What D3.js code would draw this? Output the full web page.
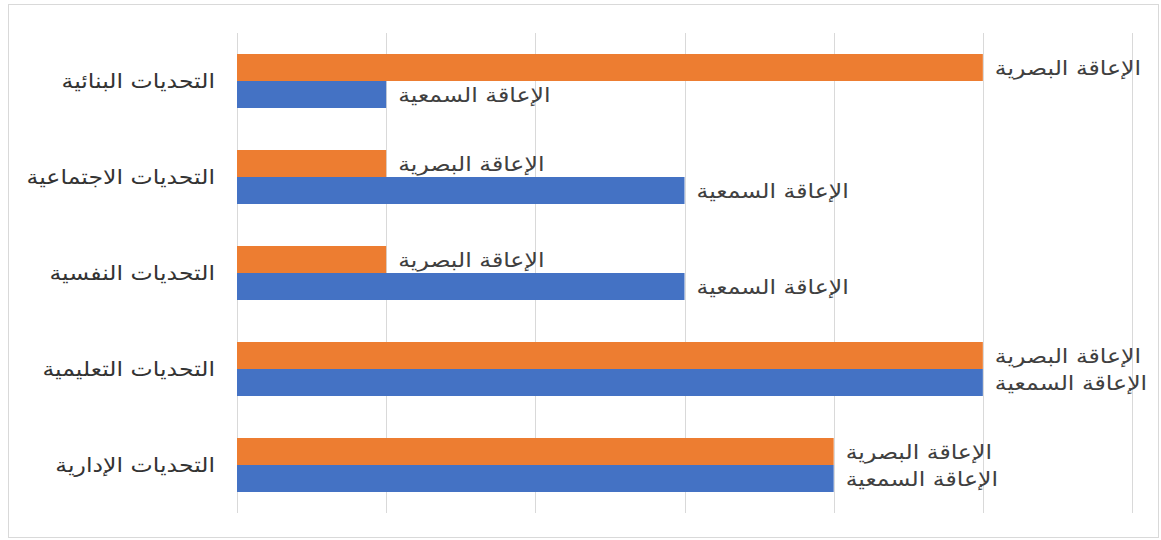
<!DOCTYPE html>
<html>
<head>
<meta charset="utf-8">
<script src="https://cdnjs.cloudflare.com/ajax/libs/d3/7.8.5/d3.min.js"></script>
<style>
  html, body { margin: 0; padding: 0; background: #fff; }
  svg text { font-family: "DejaVu Sans", "Liberation Sans", sans-serif; fill: #404040; }
</style>
</head>
<body>
<svg width="1161" height="540"></svg>
<script>
// categories top to bottom
var categories = ["التحديات البنائية", "التحديات الاجتماعية", "التحديات النفسية", "التحديات التعليمية", "التحديات الإدارية"];
var seriesNames = ["الإعاقة البصرية", "الإعاقة السمعية"];
var visualValues = [5, 1, 1, 5, 4];
var hearingValues = [1, 3, 3, 5, 4];
var xTicks = [0, 1, 2, 3, 4, 5, 6];
var colors = ["#ED7D31", "#4472C4"];

var svg = d3.select("svg"),
    width = +svg.attr("width"),
    height = +svg.attr("height");

// wider arabic glyphs like the original font
var stretch = 1.18;
function widen(sel) {
    sel.each(function() {
        var len = this.getComputedTextLength();
        d3.select(this)
            .attr("textLength", len * stretch)
            .attr("lengthAdjust", "spacingAndGlyphs");
    });
}

// chart border
svg.append("rect")
    .attr("x", 8.5).attr("y", 4.5)
    .attr("width", 1150).attr("height", 533)
    .attr("fill", "none")
    .attr("stroke", "#d9d9d9");

var x = d3.scaleLinear()
    .domain([0, 6])
    .range([237, 1132]);

var y = d3.scaleBand()
    .domain(categories)
    .range([33, 513])
    .paddingInner(0.4375)
    .paddingOuter(0.21875);

var ySub = d3.scaleBand()
    .domain(seriesNames)
    .range([0, y.bandwidth()]);

// gridlines
svg.append("g")
    .selectAll("line")
    .data(xTicks)
    .enter().append("line")
    .attr("x1", (d) => Math.round(x(d)) + 0.5)
    .attr("x2", (d) => Math.round(x(d)) + 0.5)
    .attr("y1", 33)
    .attr("y2", 513)
    .attr("stroke", "#d9d9d9")
    .attr("stroke-width", 1);

var rows = categories.map(function(c, i) {
    return [
        { cat: c, name: seriesNames[0], value: visualValues[i], color: colors[0] },
        { cat: c, name: seriesNames[1], value: hearingValues[i], color: colors[1] }
    ];
});

var groups = svg.append("g")
    .selectAll("g")
    .data(rows)
    .enter().append("g")
    .attr("transform", (d) => "translate(0," + y(d[0].cat) + ")");

groups.selectAll("rect")
    .data((d) => d)
    .enter().append("rect")
    .attr("x", x(0))
    .attr("y", (d) => ySub(d.name))
    .attr("width", (d) => x(d.value) - x(0))
    .attr("height", ySub.bandwidth())
    .attr("fill", (d) => d.color);

// data labels (series name at bar end)
groups.selectAll("text")
    .data((d) => d)
    .enter().append("text")
    .attr("x", (d) => x(d.value) + 12)
    .attr("y", (d) => ySub(d.name) + ySub.bandwidth() / 2)
    .attr("dy", "0.35em")
    .attr("text-anchor", "start")
    .style("font-size", "20px")
    .text((d) => d.name)
    .call(widen);

// category labels
svg.append("g")
    .selectAll("text")
    .data(categories)
    .enter().append("text")
    .attr("x", 215)
    .attr("y", (d) => y(d) + y.bandwidth() / 2)
    .attr("dy", "0.35em")
    .attr("text-anchor", "end")
    .style("font-size", "20px")
    .style("fill", "#333")
    .text((d) => d)
    .call(widen);
</script>
</body>
</html>
